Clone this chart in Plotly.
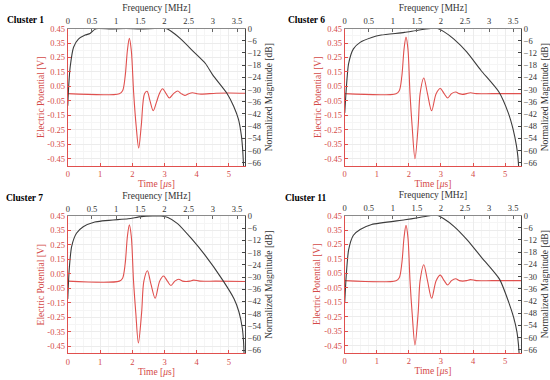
import plotly.graph_objects as go

# ---------------- data ----------------
cluster_names = ["Cluster 1", "Cluster 6", "Cluster 7", "Cluster 11"]

# time-domain pulses (time in microseconds, potential in volts)
time_c1 = [0, 1.60, 1.70, 1.78, 1.85, 1.91, 1.97, 2.045, 2.12, 2.20, 2.28, 2.38, 2.46, 2.55, 2.65, 2.75, 2.84, 2.94, 3.05, 3.15, 3.28, 3.41, 3.52, 3.63, 3.75, 3.87, 4.0, 4.13, 4.6, 5.0, 5.5]
volt_c1 = [0, 0, 0.02, 0.12, 0.30, 0.382, 0.30, 0.0, -0.22, -0.376, -0.22, 0.0, 0.016, -0.05, -0.118, -0.06, 0.0, 0.034, 0.0, -0.03, 0.0, 0.018, 0.0, -0.012, 0.0, 0.006, 0.0, -0.003, 0.003, 0.005, 0.003]

time_c6 = [0, 1.60, 1.70, 1.78, 1.85, 1.91, 1.97, 2.035, 2.10, 2.19, 2.29, 2.35, 2.465, 2.58, 2.71, 2.85, 2.98, 3.10, 3.21, 3.33, 3.46, 3.57, 3.68, 3.80, 3.92, 4.1, 4.6, 5.5]
volt_c6 = [0, 0, 0.02, 0.12, 0.31, 0.391, 0.31, 0.0, -0.22, -0.45, -0.22, 0.0, 0.108, 0.0, -0.118, 0.0, 0.036, 0.0, -0.03, 0.0, 0.011, 0.0, -0.005, 0.0, 0.006, 0.0, 0.0, 0.0]

time_c7 = [0, 1.60, 1.70, 1.78, 1.85, 1.91, 1.97, 2.04, 2.11, 2.19, 2.29, 2.36, 2.47, 2.58, 2.71, 2.85, 2.97, 3.09, 3.20, 3.32, 3.44, 3.56, 3.67, 3.79, 3.90, 4.1, 4.6, 5.5]
volt_c7 = [0, 0, 0.02, 0.12, 0.31, 0.389, 0.31, 0.0, -0.22, -0.428, -0.22, 0.0, 0.072, -0.02, -0.118, 0.0, 0.036, 0.0, -0.03, 0.0, 0.013, 0.0, -0.003, 0.0, 0.007, 0.0, 0.0, -0.003]

time_c11 = [0, 1.60, 1.70, 1.78, 1.85, 1.91, 1.97, 2.035, 2.10, 2.19, 2.29, 2.35, 2.465, 2.58, 2.71, 2.85, 2.98, 3.10, 3.21, 3.33, 3.46, 3.57, 3.68, 3.80, 3.92, 4.1, 4.6, 5.5]
volt_c11 = [0, 0, 0.02, 0.12, 0.30, 0.382, 0.30, 0.0, -0.22, -0.444, -0.22, 0.0, 0.11, 0.0, -0.122, 0.0, 0.038, 0.0, -0.03, 0.0, 0.013, 0.0, -0.003, 0.0, 0.007, 0.0, 0.0, 0.0]

# frequency spectra (MHz, normalized dB)
freq_c1 = [0, 0.02, 0.05, 0.12, 0.22, 0.36, 0.46, 0.56, 0.63, 0.9, 1.2, 1.5, 1.8, 2.03, 2.13, 2.34, 2.61, 2.85, 3.0, 3.29, 3.43, 3.53, 3.59, 3.615, 3.635]
mag_c1 = [-38, -28, -18.9, -9.2, -5.2, -3.2, -2.4, -0.4, 0, -0.2, 0, -0.2, 0, 0, -1.2, -5.2, -11.6, -17.3, -22.9, -31.8, -38.2, -44.7, -52.7, -59, -67.6]

freq_c6 = [0, 0.03, 0.08, 0.18, 0.32, 0.56, 0.76, 1.24, 1.52, 1.79, 1.93, 2.06, 2.27, 2.54, 2.83, 3.2, 3.4, 3.5, 3.57, 3.60, 3.615]
mag_c6 = [-41.5, -30.2, -17.3, -10, -6.8, -4.4, -3.2, -1.9, -0.8, 0, 0, -1.5, -5.2, -11.6, -20.5, -31, -41.5, -49.5, -57.6, -63, -67.6]

freq_c7 = [0, 0.03, 0.08, 0.18, 0.32, 0.56, 1.25, 1.52, 1.75, 1.93, 2.07, 2.27, 2.55, 2.83, 3.2, 3.44, 3.54, 3.61, 3.635, 3.645]
mag_c7 = [-40.8, -26.3, -15, -8.5, -5.3, -2.9, -1.3, -0.3, 0, 0, -0.7, -3.7, -10.9, -19, -31.4, -40.8, -47.2, -55.3, -62, -67.6]

freq_c11 = [0, 0.03, 0.08, 0.18, 0.32, 0.56, 1.25, 1.52, 1.79, 1.93, 2.06, 2.27, 2.55, 2.83, 3.22, 3.41, 3.51, 3.58, 3.61, 3.625]
mag_c11 = [-42.5, -29.8, -16.9, -9.7, -6.9, -4.4, -2.1, -1.1, 0, 0, -1.6, -5.3, -12.1, -20.2, -31.4, -42.7, -50, -57.2, -63, -67.6]

# tick labels
volt_ticks = [0.45, 0.35, 0.25, 0.15, 0.05, -0.05, -0.15, -0.25, -0.35, -0.45]
volt_ticktext = ["0.45", "0.35", "0.25", "0.15", "0.05", "-0.05", "-0.15", "-0.25", "-0.35", "-0.45"]
db_ticks = [0, -6, -12, -18, -24, -30, -36, -42, -48, -54, -60, -66]
time_ticks = [0, 1, 2, 3, 4, 5]
freq_ticks = [0, 0.5, 1, 1.5, 2, 2.5, 3, 3.5]
freq_ticktext = ["0", "0.5", "1", "1.5", "2", "2.5", "3", "3.5"]

times = [time_c1, time_c6, time_c7, time_c11]
volts = [volt_c1, volt_c6, volt_c7, volt_c11]
freqs = [freq_c1, freq_c6, freq_c7, freq_c11]
mags = [mag_c1, mag_c6, mag_c7, mag_c11]

# ---------------- style ----------------
W, H = 550, 380
RED = "#e0504e"
RED_TXT = "#d44a48"
DARK = "#3c3c3c"
FONT = "Liberation Serif"

# panel boxes in pixels: left, right, top, bottom
boxes = [(66, 244, 24, 164), (344, 521, 24, 164), (66, 244, 215, 355), (344, 521, 214.5, 354.5)]
title_pos = [(3, 15), (285, 15), (2, 197), (282, 197)]

fig = go.Figure()
layout = {}
for i in range(4):
    a = 2 * i + 1
    b = 2 * i + 2
    xa, ya = f"x{a}", f"y{a}"
    xb, yb = f"x{b}", f"y{b}"
    l, r, t, btm = boxes[i]
    xdom = [l / W, r / W]
    ydom = [1 - btm / H, 1 - t / H]

    fig.add_trace(go.Scatter(x=times[i], y=volts[i], xaxis=xa, yaxis=ya, mode="lines",
                             line=dict(color=RED, width=1.1, shape="spline", smoothing=0.9),
                             showlegend=False, hoverinfo="skip"))
    fig.add_trace(go.Scatter(x=freqs[i], y=mags[i], xaxis=xb, yaxis=yb, mode="lines",
                             line=dict(color=DARK, width=1.1, shape="spline", smoothing=0.6),
                             showlegend=False, hoverinfo="skip"))

    tickfont_red = dict(family=FONT, size=8.5, color=RED_TXT)
    tickfont_dark = dict(family=FONT, size=8.5, color="#333333")

    layout[f"xaxis{a}"] = dict(domain=xdom, anchor=ya, range=[0, 5.5], tickvals=time_ticks,
                               ticks="inside", ticklen=3, tickcolor=RED, showline=True, linecolor=RED,
                               linewidth=1, tickfont=tickfont_red, zeroline=False,
                               showgrid=True, gridcolor="#ececec", gridwidth=0.6,
                               minor=dict(dtick=0.25, showgrid=True, gridcolor="#f5f5f5", gridwidth=0.5),
                               title=dict(text="Time [<i>μ</i>s]", font=dict(family=FONT, size=9.5, color=RED_TXT), standoff=1))
    layout[f"yaxis{a}"] = dict(domain=ydom, anchor=xa, range=[-0.5, 0.45], tickvals=volt_ticks,
                               ticktext=volt_ticktext, ticks="inside", ticklen=3, tickcolor=RED,
                               showline=True, linecolor=RED, linewidth=1, tickfont=tickfont_red,
                               zeroline=False, showgrid=True, gridcolor="#ececec", gridwidth=0.6,
                               minor=dict(dtick=0.05, tick0=0.45, showgrid=True, gridcolor="#f5f5f5", gridwidth=0.5),
                               title=dict(text="Electric Potential [V]", font=dict(family=FONT, size=9.5, color=RED_TXT), standoff=1))
    layout[f"xaxis{b}"] = dict(overlaying=xa, anchor=ya, side="top", range=[0, 3.667],
                               tickvals=freq_ticks, ticktext=freq_ticktext, ticks="inside", ticklen=3,
                               tickcolor="#666666", showline=True, linecolor="#8a8a8a", linewidth=1,
                               tickfont=tickfont_dark, zeroline=False, showgrid=False,
                               title=dict(text="Frequency [MHz]", font=dict(family=FONT, size=9.5, color="#333333"), standoff=2))
    layout[f"yaxis{b}"] = dict(overlaying=ya, anchor=xa, side="right", range=[-67.6, 0],
                               tickvals=db_ticks, ticks="inside", ticklen=3, tickcolor="#444444",
                               showline=True, linecolor="#444444", linewidth=1, tickfont=tickfont_dark,
                               zeroline=False, showgrid=False,
                               title=dict(text="Normalized Magnitude [dB]", font=dict(family=FONT, size=9.5, color="#333333"), standoff=4))

annotations = []
for i in range(4):
    x, y = title_pos[i]
    annotations.append(dict(text=f"<b>{cluster_names[i]}</b>", xref="paper", yref="paper",
                            x=x / W, y=1 - y / H, xanchor="left", yanchor="middle", showarrow=False,
                            font=dict(family=FONT, size=9.5, color="#000000")))

fig.update_layout(width=W, height=H, margin=dict(l=0, r=0, t=0, b=0),
                  paper_bgcolor="white", plot_bgcolor="white", annotations=annotations,
                  font=dict(family=FONT), **layout)

fig.write_html("out.html", config={"displayModeBar": False},
               post_script="document.body.style.margin='0';document.body.style.padding='0';document.body.style.overflow='hidden';")
